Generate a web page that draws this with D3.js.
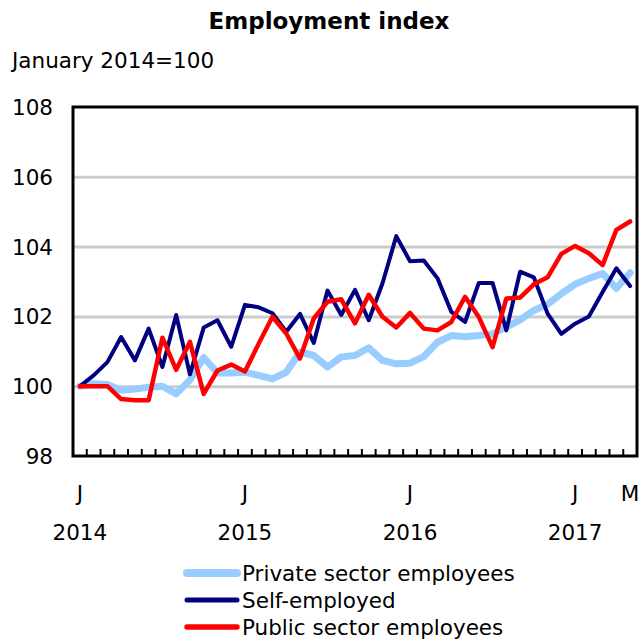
<!DOCTYPE html>
<html>
<head>
<meta charset="utf-8">
<script src="https://cdn.jsdelivr.net/npm/d3@7"></script>
<style>
  body { margin: 0; background: #fff; }
  svg { display: block; font-family: "DejaVu Sans", Verdana, sans-serif; }
</style>
</head>
<body>
<svg id="chart" width="642" height="640"></svg>
<script>
// monthly index, January 2014 = 100 (Jan 2014 .. May 2017)
var months = d3.range(41).map(function(i) {
    return d3.timeFormat('%Y-%m')(new Date(2014, i, 1));
});
var privateSector = [100, 100.07, 100.05, 99.88, 99.92, 99.97, 100.0, 99.78, 100.18, 100.82,
    100.38, 100.38, 100.4, 100.31, 100.21, 100.4, 100.98, 100.88, 100.55, 100.84,
    100.88, 101.1, 100.74, 100.64, 100.66, 100.85, 101.26, 101.45, 101.42, 101.45,
    101.5, 101.69, 101.9, 102.17, 102.35, 102.65, 102.92, 103.09, 103.23, 102.8, 103.25];
var selfEmployed = [100, 100.31, 100.69, 101.41, 100.74, 101.65, 100.55, 102.04, 100.34, 101.68,
    101.89, 101.13, 102.33, 102.26, 102.09, 101.56, 102.07, 101.24, 102.74, 102.04,
    102.76, 101.89, 102.95, 104.3, 103.58, 103.6, 103.09, 102.13, 101.84, 102.96,
    102.96, 101.6, 103.28, 103.12, 102.08, 101.5, 101.79, 102.0, 102.7, 103.38, 102.87];
var publicSector = [100, 100, 100, 99.63, 99.6, 99.6, 101.39, 100.47, 101.27, 99.78,
    100.45, 100.62, 100.42, 101.22, 101.99, 101.51, 100.79, 101.94, 102.42, 102.49,
    101.8, 102.62, 101.99, 101.68, 102.1, 101.65, 101.6, 101.84, 102.56, 101.98,
    101.12, 102.51, 102.54, 102.92, 103.12, 103.79, 104.02, 103.81, 103.47, 104.48, 104.72];
var yTicks = [98, 100, 102, 104, 106, 108];
var monthLabels = [['2014-01', 'J'], ['2015-01', 'J'], ['2016-01', 'J'], ['2017-01', 'J'], ['2017-05', 'M']];
var yearLabels = [['2014-01', '2014'], ['2015-01', '2015'], ['2016-01', '2016'], ['2017-01', '2017']];

var series = [
    { name: 'Private sector employees', values: privateSector, color: '#99ccff', width: 7 },
    { name: 'Self-employed', values: selfEmployed, color: '#000080', width: 4 },
    { name: 'Public sector employees', values: publicSector, color: '#ff0000', width: 4.5 }
];

var plotLeft = 73, plotRight = 637, plotTop = 107, plotBottom = 456;
var svg = d3.select('#chart');

var x = d3.scaleBand().domain(months).range([plotLeft, plotRight]);
var y = d3.scaleLinear().domain([98, 108]).range([plotBottom, plotTop]);
function cx(m) { return x(m) + x.bandwidth() / 2 }

svg.append('text')
    .attr('x', 329).attr('y', 29)
    .attr('text-anchor', 'middle')
    .style('font-size', '23px').style('font-weight', 'bold')
    .text('Employment index');

svg.append('text')
    .attr('x', 12).attr('y', 68)
    .style('font-size', '21.5px')
    .text('January 2014=100');

// gridlines
svg.append('g')
    .attr('transform', 'translate(' + plotLeft + ',0)')
    .call(d3.axisLeft(y).tickValues(yTicks.slice(1, -1)).tickSize(-(plotRight - plotLeft)).tickFormat(''))
    .call(function(g) {
        g.select('.domain').remove();
        g.selectAll('line').attr('stroke', '#cccccc').attr('stroke-width', 3);
    });

// y labels
svg.append('g')
    .selectAll('text')
    .data(yTicks)
    .enter().append('text')
    .attr('x', 53).attr('y', function(d) { return y(d) + 8 })
    .attr('text-anchor', 'end')
    .style('font-size', '21.5px')
    .text(function(d) { return d });

// lines
var line = d3.line()
    .x(function(d, i) { return cx(months[i]) })
    .y(function(d) { return y(d) });

svg.append('g')
    .selectAll('path')
    .data(series)
    .enter().append('path')
    .attr('d', function(s) { return line(s.values) })
    .attr('fill', 'none')
    .attr('stroke', function(s) { return s.color })
    .attr('stroke-width', function(s) { return s.width })
    .attr('stroke-linejoin', 'round')
    .attr('stroke-linecap', 'round');

// tick marks between months
svg.append('g')
    .selectAll('line')
    .data(months.slice(1))
    .enter().append('line')
    .attr('x1', function(m) { return x(m) }).attr('x2', function(m) { return x(m) })
    .attr('y1', plotBottom).attr('y2', plotBottom - 7)
    .attr('stroke', '#000').attr('stroke-width', 2);

// frame
svg.append('rect')
    .attr('x', plotLeft).attr('y', plotTop)
    .attr('width', plotRight - plotLeft).attr('height', plotBottom - plotTop)
    .attr('fill', 'none').attr('stroke', '#000').attr('stroke-width', 3);

svg.append('g')
    .selectAll('text')
    .data(monthLabels)
    .enter().append('text')
    .attr('x', function(d) { return cx(d[0]) }).attr('y', 501)
    .attr('text-anchor', 'middle')
    .style('font-size', '21.5px')
    .text(function(d) { return d[1] });

svg.append('g')
    .selectAll('text')
    .data(yearLabels)
    .enter().append('text')
    .attr('x', function(d) { return cx(d[0]) }).attr('y', 540)
    .attr('text-anchor', 'middle')
    .style('font-size', '21.5px')
    .text(function(d) { return d[1] });

// legend
var legend = svg.append('g')
    .selectAll('g')
    .data(series)
    .enter().append('g')
    .attr('transform', function(d, i) { return 'translate(0,' + (573 + i * 27) + ')' });
legend.append('line')
    .attr('x1', 187).attr('x2', 237)
    .attr('stroke', function(s) { return s.color })
    .attr('stroke-width', function(s) { return s.width + 1 })
    .attr('stroke-linecap', 'round');
legend.append('text')
    .attr('x', 242).attr('y', 8)
    .style('font-size', '21.5px')
    .text(function(s) { return s.name });
</script>
</body>
</html>
